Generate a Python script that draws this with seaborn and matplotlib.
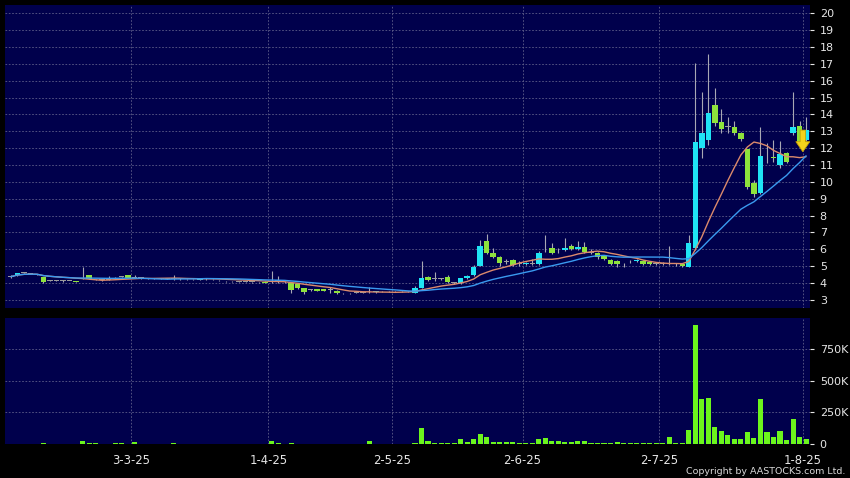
import numpy as np
import pandas as pd
import matplotlib
matplotlib.use('Agg')
import matplotlib.pyplot as plt
from matplotlib.patches import FancyArrowPatch
import seaborn as sns

# trading calendar (HK holidays removed)
START, END = '2025-02-04', '2025-08-01'
HOLIDAYS = ['2025-04-04', '2025-04-18', '2025-04-21', '2025-05-01', '2025-05-05', '2025-07-01']
TICK_DATES = ['2025-03-03', '2025-04-01', '2025-05-02', '2025-06-02', '2025-07-02', '2025-08-01']

# daily OHLC
OPEN = [4.38, 4.45, 4.60, 4.56, 4.50, 4.34, 4.15, 4.15, 4.12, 4.12,
        4.12, 4.25, 4.45, 4.22, 4.20, 4.20, 4.27, 4.36, 4.47, 4.32,
        4.30, 4.28, 4.26, 4.24, 4.26, 4.26, 4.24, 4.22, 4.22, 4.20,
        4.22, 4.22, 4.16, 4.10, 4.10, 4.08, 4.08, 4.06, 4.05, 4.08,
        4.10, 4.12, 4.05, 3.99, 3.93, 3.69, 3.60, 3.62, 3.62, 3.60,
        3.55, 3.40, 3.40, 3.42, 3.42, 3.45, 3.45, 3.50, 3.50, 3.50,
        3.50, 3.52, 3.43, 3.73, 4.34, 4.25, 4.25, 4.38, 4.00, 3.99,
        4.30, 4.48, 5.03, 6.50, 5.77, 5.53, 5.25, 5.37, 5.15, 5.10,
        5.15, 5.11, 6.00, 6.10, 5.95, 5.95, 6.20, 6.00, 6.15, 5.80,
        5.77, 5.60, 5.37, 5.30, 5.10, 5.30, 5.30, 5.30, 5.25, 5.15,
        5.15, 5.15, 5.10, 5.10, 4.97, 6.06, 11.99, 12.48, 14.56, 13.57,
        13.27, 13.24, 12.92, 11.93, 9.95, 9.36, 11.46, 11.50, 11.00, 11.73,
        12.88, 13.32, 12.50]
HIGH = [4.46, 4.60, 4.63, 4.58, 4.52, 4.36, 4.18, 4.17, 4.16, 4.15,
        4.14, 4.97, 4.48, 4.25, 4.22, 4.40, 4.35, 4.40, 4.50, 4.46,
        4.32, 4.30, 4.28, 4.30, 4.28, 4.45, 4.27, 4.25, 4.24, 4.26,
        4.32, 4.25, 4.20, 4.14, 4.12, 4.10, 4.12, 4.08, 4.08, 4.10,
        4.73, 4.40, 4.10, 4.02, 3.98, 3.72, 3.65, 3.64, 3.64, 3.78,
        3.58, 3.42, 3.43, 3.45, 3.46, 3.75, 3.52, 3.53, 3.52, 3.54,
        3.53, 3.55, 3.83, 5.32, 4.40, 4.67, 4.30, 4.45, 4.05, 4.32,
        4.45, 5.05, 6.56, 6.89, 6.10, 5.60, 5.45, 5.40, 5.30, 5.25,
        5.40, 5.90, 6.85, 6.40, 6.10, 6.65, 6.30, 6.50, 6.45, 6.00,
        5.85, 5.65, 5.45, 5.35, 5.20, 5.35, 5.40, 5.35, 5.30, 5.20,
        5.25, 6.20, 5.20, 5.15, 6.85, 17.03, 15.35, 17.59, 15.55, 14.35,
        13.86, 13.60, 12.95, 11.95, 10.10, 13.27, 12.28, 12.50, 12.40, 11.80,
        15.35, 13.60, 13.87]
LOW = [4.30, 4.42, 4.57, 4.53, 4.46, 3.98, 4.10, 4.12, 4.05, 4.10,
       4.06, 4.22, 4.22, 4.18, 4.12, 4.16, 4.24, 4.33, 4.28, 4.28,
       4.26, 4.25, 4.22, 4.22, 4.22, 4.20, 4.20, 4.18, 4.18, 4.18,
       4.20, 4.18, 4.12, 4.04, 4.06, 4.04, 4.05, 4.02, 4.02, 4.00,
       4.00, 4.00, 3.98, 3.43, 3.62, 3.35, 3.55, 3.52, 3.52, 3.39,
       3.35, 3.36, 3.36, 3.38, 3.38, 3.40, 3.42, 3.46, 3.46, 3.47,
       3.46, 3.48, 3.39, 3.70, 4.10, 4.15, 4.18, 4.00, 3.95, 3.96,
       4.26, 4.40, 5.00, 5.70, 5.50, 5.00, 5.10, 5.00, 5.00, 5.05,
       5.05, 5.05, 5.85, 5.70, 5.80, 5.90, 5.95, 5.95, 5.80, 5.70,
       5.45, 5.35, 5.05, 4.95, 4.95, 5.20, 5.25, 5.05, 5.05, 5.05,
       5.05, 5.05, 5.02, 4.95, 4.95, 5.96, 11.40, 12.19, 13.32, 12.90,
       12.88, 12.80, 12.40, 9.60, 9.10, 9.30, 11.10, 11.20, 10.80, 11.10,
       12.80, 12.30, 12.40]
CLOSE = [4.38, 4.57, 4.60, 4.56, 4.50, 4.04, 4.15, 4.15, 4.12, 4.12,
         4.08, 4.30, 4.26, 4.22, 4.20, 4.20, 4.32, 4.36, 4.30, 4.32,
         4.30, 4.28, 4.26, 4.28, 4.26, 4.26, 4.24, 4.22, 4.22, 4.24,
         4.30, 4.22, 4.16, 4.10, 4.10, 4.08, 4.08, 4.06, 4.05, 4.02,
         4.12, 4.12, 4.05, 3.59, 3.69, 3.49, 3.60, 3.55, 3.55, 3.60,
         3.40, 3.40, 3.40, 3.42, 3.42, 3.45, 3.50, 3.50, 3.50, 3.50,
         3.50, 3.52, 3.69, 4.32, 4.18, 4.25, 4.25, 4.04, 4.00, 4.28,
         4.40, 4.97, 6.22, 5.77, 5.53, 5.21, 5.25, 5.07, 5.15, 5.20,
         5.15, 5.77, 6.00, 5.77, 5.95, 6.10, 6.00, 6.15, 5.85, 5.80,
         5.53, 5.40, 5.11, 5.10, 5.10, 5.30, 5.35, 5.10, 5.10, 5.15,
         5.15, 5.15, 5.10, 5.00, 6.36, 12.38, 12.88, 14.10, 13.48, 13.12,
         13.27, 12.88, 12.53, 9.72, 9.26, 11.54, 11.46, 11.40, 11.65, 11.20,
         13.24, 12.38, 13.08]
VOLUME = [3000, 2000, 1000, 2000, 1000, 4000, 2000, 1000, 1000, 2000,
          1000, 26000, 8000, 4000, 2000, 3000, 8000, 9000, 3000, 12000,
          3000, 2000, 1000, 2000, 2000, 10000, 3000, 1000, 2000, 1000,
          1000, 2000, 1000, 2000, 1000, 1000, 2000, 1000, 1000, 2000,
          24000, 10000, 3000, 4000, 3000, 2000, 3000, 2000, 1000, 2000,
          3000, 1000, 1000, 2000, 3000, 20000, 2000, 1000, 1000, 2000,
          2000, 3000, 8000, 129000, 20000, 10000, 6000, 5000, 6000, 42000,
          15000, 40000, 82000, 58000, 18000, 18000, 15000, 16000, 10000, 8000,
          10000, 42000, 50000, 26000, 21000, 18000, 12000, 20000, 20000, 10000,
          8000, 6000, 7000, 15000, 5000, 6000, 8000, 7000, 5000, 6000,
          4000, 53000, 5000, 6000, 110000, 937000, 358000, 363000, 132000, 105000,
          74000, 40000, 37000, 92000, 50000, 358000, 95000, 58000, 103000, 32000,
          197000, 55000, 42000]

PRICE_TICKS = list(range(3, 21))
VOL_TICKS = [0, 250000, 500000, 750000]
VOL_LABELS = ['0', '250K', '500K', '750K']

BG = '#00004c'
GRID = '#5e5e8a'
UP = '#1fe4f5'
DOWN = '#8ee23c'
FLAT = '#9c9c9c'
WICK = '#a8a8b4'
VOL_COLOR = '#6cf51c'
MA_SHORT_COLOR = '#dc8a6c'
MA_LONG_COLOR = '#3a9af0'
TEXT = '#e6e6e6'


def style_axes(ax):
    ax.set_facecolor(BG)
    for s in ax.spines.values():
        s.set_visible(False)
    ax.grid(True, color=GRID, linestyle=(0, (2, 2)), linewidth=0.6)
    ax.set_axisbelow(True)
    ax.yaxis.tick_right()
    ax.tick_params(axis='y', colors=TEXT, labelsize=8, length=3, width=0.8, pad=4)
    ax.tick_params(axis='x', colors=TEXT, labelsize=8.4, length=3, width=0.8, pad=4)
    ax.set_xlabel('')
    ax.set_ylabel('')


def main():
    sns.set_style('dark')
    plt.rcParams['font.family'] = ['DejaVu Sans']

    dates = pd.bdate_range(START, END).drop(pd.to_datetime(HOLIDAYS), errors='ignore')
    n = len(CLOSE)
    idx = np.arange(n)
    o, h, l, c = map(np.array, (OPEN, HIGH, LOW, CLOSE))
    ma10 = pd.Series(c).rolling(10, min_periods=1).mean()
    ma20 = pd.Series(c).rolling(20, min_periods=1).mean()

    tick_pos = [dates.get_loc(pd.Timestamp(d)) - 0.5 for d in TICK_DATES]
    tick_lab = [f'{pd.Timestamp(d).day}-{pd.Timestamp(d).month}-{pd.Timestamp(d):%y}' for d in TICK_DATES]

    fig = plt.figure(figsize=(8.5, 4.78), dpi=100, facecolor='black')
    ax = fig.add_axes([5 / 850, 1 - 308 / 478, 805 / 850, 303 / 478])
    axv = fig.add_axes([5 / 850, 1 - 444 / 478, 805 / 850, 126 / 478])
    xlim = (-0.9, 122.6)

    # candles
    colors = np.where(c > o, UP, np.where(c < o, DOWN, FLAT))
    ax.vlines(idx, l, h, colors=WICK, linewidth=0.8, zorder=2)
    body_low = np.minimum(o, c)
    body_h = np.maximum(np.abs(c - o), 0.035)
    ax.bar(idx, body_h, bottom=body_low, width=0.84, color=colors, linewidth=0, zorder=3)

    sns.lineplot(x=idx, y=ma10.values, ax=ax, color=MA_SHORT_COLOR, linewidth=1.0, zorder=4)
    sns.lineplot(x=idx, y=ma20.values, ax=ax, color=MA_LONG_COLOR, linewidth=1.0, zorder=4)

    # yellow signal arrow on the last bars
    arrow = FancyArrowPatch((121.5, 13.07), (121.5, 11.79),
                            arrowstyle='simple,head_length=0.72,head_width=1.0,tail_width=0.38',
                            mutation_scale=10, facecolor='#f4d21c', edgecolor='#c9a400',
                            linewidth=0.6, shrinkA=0, shrinkB=0, zorder=6)
    ax.add_patch(arrow)

    style_axes(ax)
    ax.set_xlim(xlim)
    ax.set_ylim(2.52, 20.49)
    ax.set_yticks(PRICE_TICKS)
    ax.set_yticklabels([str(t) for t in PRICE_TICKS])
    ax.set_xticks(tick_pos)
    ax.tick_params(axis='x', labelbottom=False, length=0)

    # volume
    axv.bar(idx, VOLUME, width=0.78, color=VOL_COLOR, linewidth=0, zorder=3)
    style_axes(axv)
    axv.set_xlim(xlim)
    axv.set_ylim(0, 995000)
    axv.set_yticks(VOL_TICKS)
    axv.set_yticklabels(VOL_LABELS)
    axv.set_xticks(tick_pos)
    axv.set_xticklabels(tick_lab)

    fig.text(845 / 850, 1 - 471 / 478, 'Copyright by AASTOCKS.com Ltd.', color='#d8d8d8',
             fontsize=6.8, ha='right', va='center')

    fig.savefig('out.png', dpi=100, facecolor='black')


if __name__ == '__main__':
    main()
